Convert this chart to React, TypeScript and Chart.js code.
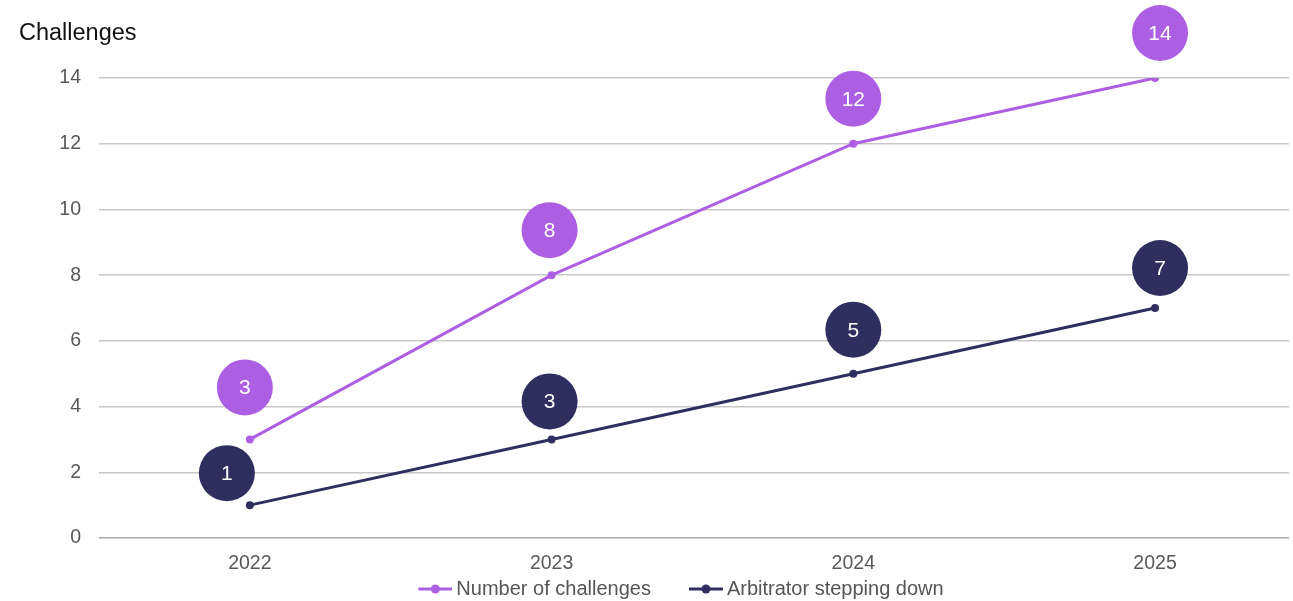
import React, { useEffect, useRef } from "react";
import { Chart, registerables } from "chart.js";

Chart.register(...registerables);

const years = [2022, 2023, 2024, 2025];
const challenges = [3, 8, 12, 14];
const arbitratorSteppingDown = [1, 3, 5, 7];
const yTicks = [0, 2, 4, 6, 8, 10, 12, 14];
const seriesNames = ["Number of challenges", "Arbitrator stepping down"];
const seriesValues = [challenges, arbitratorSteppingDown];
const axisTitle = "Challenges";

const PURPLE = "#ad5fe3";
const NAVY = "#2e2f5e";
const FONT = "'Liberation Sans', Arial, sans-serif";

// label badge offsets (px) relative to each point
const badgeOffsets = [
  [[-5, -52], [-2, -45], [0, -45], [5, -45]],
  [[-23, -32], [-2, -38], [0, -44], [5, -40]],
];

const LEGEND_BOX = 62;

function legendIcon(color: string) {
  const c = document.createElement("canvas");
  const w = LEGEND_BOX + 12;
  c.width = w;
  c.height = 10;
  const g = c.getContext("2d")!;
  g.strokeStyle = color;
  g.lineWidth = 3;
  g.beginPath();
  g.moveTo(w - 34, 5);
  g.lineTo(w, 5);
  g.stroke();
  g.fillStyle = color;
  g.beginPath();
  g.arc(w - 17, 5, 4.5, 0, Math.PI * 2);
  g.fill();
  return c;
}

const badgePlugin = {
  id: "badges",
  afterLayout(chart: any) {
    if (chart.legend) {
      chart.legend.left += 8;
      chart.legend.right += 8;
    }
  },
  afterDatasetsDraw(chart: any) {
    const { ctx } = chart;
    const xs = chart.scales.x;
    const ys = chart.scales.y;
    chart.data.datasets.forEach((ds: any, di: number) => {
      seriesValues[di].forEach((v: number, i: number) => {
        const cx = xs.getPixelForValue(years[i]) + badgeOffsets[di][i][0];
        const cy = ys.getPixelForValue(v) + badgeOffsets[di][i][1];
        ctx.save();
        ctx.fillStyle = ds.borderColor;
        ctx.beginPath();
        ctx.arc(cx, cy, 28, 0, Math.PI * 2);
        ctx.fill();
        ctx.fillStyle = "#ffffff";
        ctx.font = `21px ${FONT}`;
        ctx.textAlign = "center";
        ctx.textBaseline = "middle";
        ctx.fillText(String(v), cx, cy + 1);
        ctx.restore();
      });
    });
  },
};

export default function App() {
  const ref = useRef<HTMLCanvasElement>(null);
  useEffect(() => {
    const icons = [legendIcon(PURPLE), legendIcon(NAVY)];
    const chart = new Chart(ref.current!, {
      type: "line",
      data: {
        datasets: seriesValues.map((vals, di) => ({
          label: seriesNames[di],
          data: vals.map((v, i) => ({ x: years[i], y: v })) as any,
          borderColor: di === 0 ? PURPLE : NAVY,
          backgroundColor: di === 0 ? PURPLE : NAVY,
          borderWidth: 3,
          pointRadius: 4,
          pointBackgroundColor: di === 0 ? PURPLE : NAVY,
          pointBorderWidth: 0,
          tension: 0,
        })),
      },
      options: {
        animation: false,
        responsive: false,
        maintainAspectRatio: false,
        layout: { padding: { left: 19, top: 19, right: 0, bottom: 0 } },
        plugins: {
          tooltip: { enabled: false },
          title: {
            display: true,
            text: axisTitle,
            align: "start",
            color: "#111111",
            font: { family: FONT, size: 23.5, weight: "normal", lineHeight: 1.2 },
            padding: { top: 0, bottom: 30.8 },
          },
          legend: {
            position: "bottom",
            labels: {
              color: "#555555",
              font: { family: FONT, size: 20, lineHeight: 1 },
              usePointStyle: true,
              pointStyleWidth: LEGEND_BOX,
              boxHeight: 10,
              padding: 4,
              generateLabels: (c: any) =>
                c.data.datasets.map((ds: any, i: number) => ({
                  text: ds.label,
                  fillStyle: ds.borderColor,
                  strokeStyle: ds.borderColor,
                  fontColor: "#555555",
                  pointStyle: icons[i],
                  lineWidth: 0,
                  hidden: false,
                  datasetIndex: i,
                })),
            },
          },
        },
        scales: {
          x: {
            type: "linear",
            min: 2021.5,
            max: 2025.444,
            afterBuildTicks: (s: any) => {
              s.ticks = years.map((y) => ({ value: y }));
            },
            afterFit: (s: any) => {
              s.height = 37;
            },
            grid: { display: false, drawTicks: false },
            border: { display: false },
            ticks: {
              color: "#595959",
              font: { family: FONT, size: 19.5 },
              padding: 14,
              callback: (v: any) => String(v),
            },
          },
          y: {
            min: 0,
            max: 14,
            afterBuildTicks: (s: any) => {
              s.ticks = yTicks.map((v) => ({ value: v }));
            },
            afterFit: (s: any) => {
              s.width = 80;
            },
            grid: {
              drawTicks: false,
              lineWidth: 1.5,
              color: (c: any) => (c.tick && c.tick.value === 0 ? "#a8a8a8" : "#c8c8c8"),
            },
            border: { display: false },
            ticks: {
              color: "#595959",
              font: { family: FONT, size: 19.5 },
              padding: 18,
            },
          },
        },
      } as any,
      plugins: [badgePlugin],
    });
    return () => chart.destroy();
  }, []);
  return (
    <div style={{ position: "fixed", left: 0, top: 0, width: 1293, height: 601, overflow: "hidden", background: "#fff" }}>
      <canvas ref={ref} width={1293} height={609} style={{ display: "block" }} />
    </div>
  );
}
